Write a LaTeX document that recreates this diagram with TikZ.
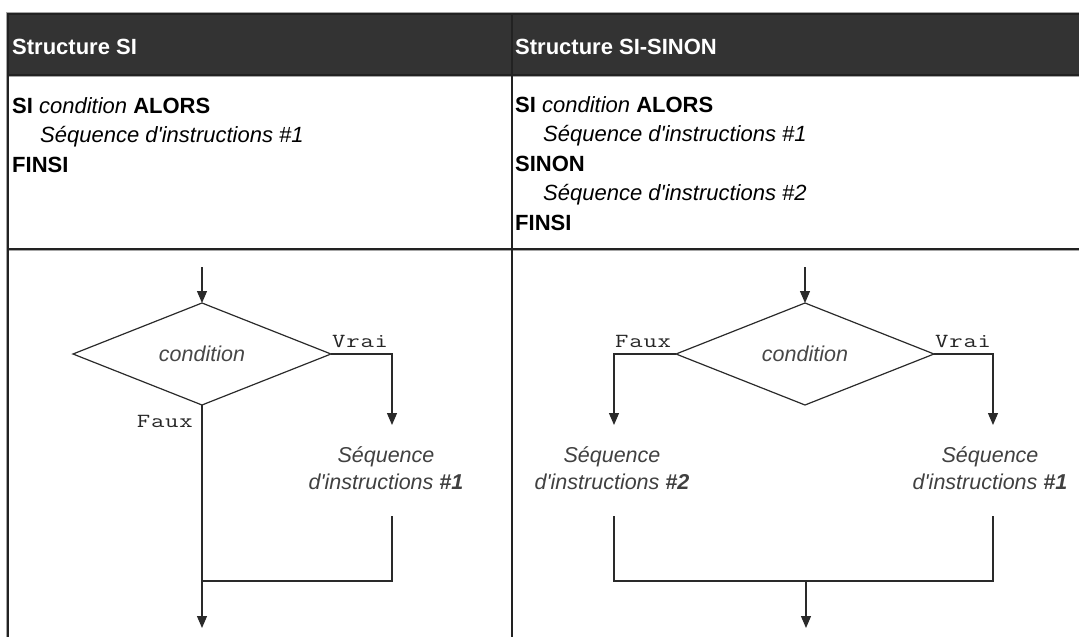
\documentclass[tikz,border=0pt]{standalone}
\usepackage{fontspec}
\usepackage{graphicx}
\setmainfont{Liberation Sans}
\newfontfamily\nolig{Liberation Sans}
\usetikzlibrary{shapes.geometric,arrows.meta}
\definecolor{hdr}{HTML}{333333}
\definecolor{rulec}{HTML}{222222}
\definecolor{flc}{HTML}{2A2A2A}
\newcommand{\ap}{{\nolig'}}
\newcommand{\wide}[1]{\scalebox{1.3}[1]{#1}}
\newcommand{\Vrai}{\wide{V\kern0.6pt r\kern0.6pt a\kern0.6pt i}}
\newcommand{\Faux}{\wide{F\kern0.6pt a\kern0.6pt u\kern0.6pt x}}
\tikzset{
  tbl/.style={line width=1.5pt, draw=rulec},
  tblhi/.style={line width=1pt, draw=black!35},
  flow/.style={line width=1.2pt, draw=flc},
  arr/.style={flow, -{Triangle[length=12pt,width=10pt]}},
  dia/.style={diamond, draw=flc, line width=1.2pt, minimum width=258pt, minimum height=102pt,
    shape aspect=2.5, inner sep=0pt, outer sep=0pt,
    font=\fontsize{21.5}{26}\selectfont\itshape, text=black!72},
  hd/.style={anchor=base west, inner sep=0pt, text=white, font=\fontsize{22}{26}\selectfont\bfseries},
  cell/.style={anchor=base west, inner sep=0pt, align=left, font=\fontsize{22}{29.5}\selectfont},
  seq/.style={anchor=base, inner sep=0pt, align=center, font=\fontsize{21.5}{27}\selectfont\itshape, text=black!75},
  lbl/.style={inner sep=0pt, font=\fontsize{20}{24}\selectfont\ttfamily, text=black!85},
}
\begin{document}
\begin{tikzpicture}[x=1pt,y=-1pt]
\useasboundingbox (0,0) rectangle (1079,637);
% table
\fill[hdr] (8,14) rectangle (1079,75);
\draw[tblhi] (1079,12.5) -- (6.5,12.5) -- (6.5,637);
\draw[tblhi] (8,76.5) -- (1079,76.5);
\draw[tblhi] (8,250.5) -- (1079,250.5);
\draw[tbl] (1079,14) -- (8,14) -- (8,637);
\draw[tbl] (8,75) -- (1079,75);
\draw[tbl] (8,249) -- (1079,249);
\draw[tbl, line width=2pt] (511.5,14) -- (511.5,637);
% header
\node[hd] (h1) at (12,54) {Structure SI};
\node[hd] (h2) at (515,54) {Structure SI-SINON};
% pseudo-code (base anchor = last line's baseline)
\node[cell] (c1) at (12,172) {\textbf{SI} \textit{condition} \textbf{ALORS}\\\hspace*{28pt}\textit{Séquence d\ap instructions \#1}\\\textbf{FINSI}};
\node[cell] (c2) at (515,230) {\textbf{SI} \textit{condition} \textbf{ALORS}\\\hspace*{28pt}\textit{Séquence d\ap instructions \#1}\\\textbf{SINON}\\\hspace*{28pt}\textit{Séquence d\ap instructions \#2}\\\textbf{FINSI}};
% left flowchart
\node[dia] (dL) at (202,354) {condition};
\coordinate (inL) at (202,267);
\draw[arr] (inL) -- (dL.north);
\coordinate (tL1) at (392,425);
\draw[arr] (dL.east) -| (tL1);
\coordinate (outL) at (202,628);
\draw[arr] (dL.south) -- (outL);
\node[seq] (sL1) at (386,489) {Séquence\\d\ap instructions \textbf{\#1}};
\coordinate (bL1) at (392,516);
\coordinate (jL) at (202,581);
\draw[flow] (bL1) |- (jL);
\node[lbl, anchor=base west] (vL) at (332,347) {\Vrai};
\node[lbl, anchor=base east] (fL) at (193,427) {\Faux};
% right flowchart
\node[dia] (dR) at (805,354) {condition};
\coordinate (inR) at (805,267);
\draw[arr] (inR) -- (dR.north);
\coordinate (tR2) at (614,425);
\coordinate (tR1) at (993,425);
\draw[arr] (dR.west) -| (tR2);
\draw[arr] (dR.east) -| (tR1);
\node[seq] (sR2) at (612,489) {Séquence\\d\ap instructions \textbf{\#2}};
\node[seq] (sR1) at (990,489) {Séquence\\d\ap instructions \textbf{\#1}};
\coordinate (bR2) at (614,516);
\coordinate (bR1) at (993,516);
\coordinate (jR1) at (993,581);
\draw[flow] (bR2) |- (jR1) -- (bR1);
\coordinate (jRm) at (806,581);
\coordinate (outR) at (806,628);
\draw[arr] (jRm) -- (outR);
\node[lbl, anchor=base west] (fR) at (615,347) {\Faux};
\node[lbl, anchor=base west] (vR) at (935,347) {\Vrai};
\end{tikzpicture}
\end{document}
